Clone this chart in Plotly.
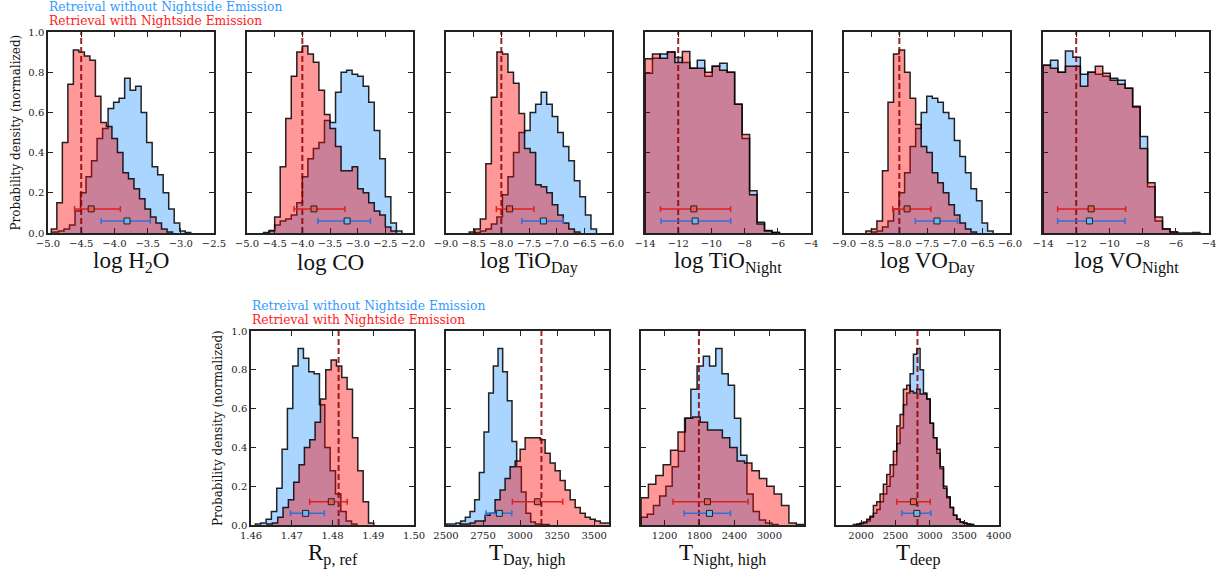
import plotly.graph_objects as go

# ------------------------------------------------------------------ data
# Histograms: (first bin edge, bin width) and normalized densities
h2o_blue_bins = (-4.925, 0.083)
h2o_blue = [0.005, 0.01, 0.02, 0.04, 0.11, 0.20, 0.28, 0.36, 0.47, 0.52, 0.62, 0.65, 0.67,
            0.77, 0.71, 0.73, 0.60, 0.45, 0.33, 0.29, 0.20, 0.12, 0.05, 0.01, 0.003]
h2o_red_bins = (-4.95, 0.083)
h2o_red = [0.02, 0.15, 0.45, 0.74, 0.91, 0.90, 0.88, 0.86, 0.68, 0.55, 0.53, 0.47, 0.40,
           0.30, 0.27, 0.22, 0.17, 0.12, 0.08, 0.05, 0.02, 0.005]

co_blue_bins = (-4.60, 0.1)
co_blue = [0.01, 0.04, 0.06, 0.07, 0.09, 0.15, 0.28, 0.37, 0.42, 0.45, 0.56, 0.55, 0.70,
           0.80, 0.81, 0.79, 0.78, 0.73, 0.65, 0.51, 0.37, 0.18, 0.05, 0.01]
co_red_bins = (-4.70, 0.1)
co_red = [0.003, 0.012, 0.08, 0.33, 0.57, 0.78, 0.90, 0.93, 0.89, 0.85, 0.71, 0.59, 0.52,
          0.43, 0.31, 0.31, 0.33, 0.22, 0.20, 0.15, 0.11, 0.09, 0.03, 0.01]

tiod_blue_bins = (-8.48, 0.1)
tiod_blue = [0.003, 0.01, 0.02, 0.045, 0.08, 0.19, 0.28, 0.40, 0.50, 0.51, 0.60, 0.64, 0.70,
             0.64, 0.58, 0.50, 0.43, 0.36, 0.26, 0.18, 0.09, 0.02]
tiod_red_bins = (-8.58, 0.1)
tiod_red = [0.005, 0.02, 0.07, 0.345, 0.675, 0.90, 0.89, 0.80, 0.745, 0.595, 0.42, 0.40,
            0.24, 0.23, 0.20, 0.14, 0.09, 0.05, 0.02, 0.005]

tion_blue_bins = (-14.0, 0.45)
tion_blue = [0.795, 0.87, 0.89, 0.90, 0.873, 0.848, 0.82, 0.86, 0.78, 0.83, 0.845, 0.80,
             0.64, 0.47, 0.21, 0.053, 0.012, 0.002]
tion_red_bins = (-14.0, 0.45)
tion_red = [0.867, 0.89, 0.87, 0.90, 0.848, 0.903, 0.82, 0.82, 0.80, 0.83, 0.81, 0.80,
            0.64, 0.49, 0.19, 0.045, 0.01, 0.002]

vod_blue_bins = (-8.505, 0.1)
vod_blue = [0.005, 0.01, 0.03, 0.06, 0.12, 0.20, 0.30, 0.43, 0.52, 0.60, 0.68, 0.67, 0.65,
            0.60, 0.57, 0.46, 0.38, 0.30, 0.22, 0.16, 0.05, 0.01]
vod_red_bins = (-8.605, 0.1)
vod_red = [0.01, 0.02, 0.06, 0.31, 0.65, 0.89, 0.91, 0.80, 0.67, 0.54, 0.43, 0.40, 0.30,
           0.25, 0.20, 0.14, 0.09, 0.05, 0.02, 0.005]

von_blue_bins = (-14.0, 0.45)
von_blue = [0.835, 0.86, 0.80, 0.905, 0.875, 0.79, 0.80, 0.79, 0.78, 0.77, 0.76, 0.72,
            0.625, 0.48, 0.23, 0.06, 0.02, 0.005, 0.0, 0.0, 0.003]
von_red_bins = (-14.0, 0.45)
von_red = [0.835, 0.82, 0.80, 0.83, 0.83, 0.73, 0.80, 0.83, 0.795, 0.76, 0.74, 0.72, 0.63,
           0.42, 0.25, 0.08, 0.02, 0.005]

rp_blue_bins = (1.46107, 0.001311)
rp_blue = [0.005, 0.01, 0.03, 0.07, 0.19, 0.39, 0.60, 0.82, 0.91, 0.86, 0.79, 0.78, 0.62,
           0.40, 0.28, 0.16, 0.07, 0.02, 0.005]
rp_red_bins = (1.46393, 0.001311)
rp_red = [0.005, 0.01, 0.04, 0.09, 0.13, 0.22, 0.31, 0.40, 0.44, 0.53, 0.65, 0.80, 0.85,
          0.82, 0.76, 0.70, 0.45, 0.28, 0.12, 0.01]

tday_blue_bins = (2504.5, 31.5)
tday_blue = [0.005, 0.005, 0.01, 0.02, 0.04, 0.07, 0.13, 0.27, 0.48, 0.68, 0.82, 0.91, 0.79,
             0.64, 0.43, 0.30, 0.17, 0.06, 0.015, 0.005, 0.003, 0.002]
tday_red_bins = (2594.6, 33.8)
tday_red = [0.005, 0.005, 0.01, 0.02, 0.02, 0.05, 0.06, 0.13, 0.18, 0.24, 0.30, 0.33, 0.39,
            0.45, 0.45, 0.45, 0.44, 0.37, 0.32, 0.28, 0.23, 0.18, 0.13, 0.09, 0.06, 0.04,
            0.03, 0.02, 0.01, 0.01]

tnight_blue_bins = (796.0, 107.0)
tnight_blue = [0.04, 0.055, 0.10, 0.15, 0.20, 0.30, 0.38, 0.55, 0.70, 0.82, 0.87, 0.82, 0.91,
               0.78, 0.72, 0.55, 0.36, 0.16, 0.07, 0.026, 0.01, 0.003]
tnight_red_bins = (796.0, 127.0)
tnight_red = [0.14, 0.21, 0.255, 0.31, 0.385, 0.48, 0.55, 0.557, 0.53, 0.49, 0.49, 0.45,
              0.40, 0.33, 0.32, 0.28, 0.24, 0.20, 0.16, 0.10, 0.01, 0.003]

tdeep_blue_bins = (1937.0, 48.5)
tdeep_blue = [0.003, 0.006, 0.01, 0.02, 0.04, 0.06, 0.08, 0.12, 0.16, 0.20, 0.25, 0.31, 0.42,
              0.50, 0.62, 0.68, 0.78, 0.88, 0.91, 0.80, 0.68, 0.65, 0.525, 0.45, 0.37, 0.29,
              0.20, 0.14, 0.09, 0.05, 0.03, 0.015, 0.01, 0.005, 0.003]
tdeep_red_bins = (1888.4, 48.5)
tdeep_red = [0.003, 0.005, 0.01, 0.015, 0.03, 0.045, 0.10, 0.12, 0.16, 0.21, 0.26, 0.31, 0.38,
             0.51, 0.57, 0.70, 0.72, 0.69, 0.68, 0.70, 0.675, 0.675, 0.65, 0.525, 0.45, 0.39,
             0.30, 0.19, 0.145, 0.09, 0.05, 0.03, 0.015, 0.01, 0.005, 0.003]

# Median and 1-sigma bounds, true values
red_median = [-4.35, -3.79, -7.85, -11.06, -7.86, -11.1, 1.4797, 3117, 1937, 2762]
red_err_minus = [0.25, 0.36, 0.24, 2.01, 0.26, 2.02, 0.0053, 169, 592, 242]
red_err_plus = [0.44, 0.56, 0.44, 2.22, 0.43, 2.08, 0.0039, 171, 697, 243]
blue_median = [-3.81, -3.19, -7.24, -10.98, -7.32, -11.2, 1.4734, 2860, 1972, 2811]
blue_err_minus = [0.39, 0.53, 0.39, 2.05, 0.39, 1.92, 0.0037, 90, 435, 219]
blue_err_plus = [0.35, 0.42, 0.36, 2.14, 0.37, 2.14, 0.0046, 84, 360, 204]
marker_level = {"red": 0.12, "blue": 0.06}
true_values = [-4.5, -4.0, -8.0, -12.0, -8.0, -12.0, 1.4815, 3144, 1790, 2820]

axis_labels = ["log H<sub>2</sub>O", "log CO", "log TiO<sub>Day</sub>", "log TiO<sub>Night</sub>",
               "log VO<sub>Day</sub>", "log VO<sub>Night</sub>", "R<sub>p, ref</sub>",
               "T<sub>Day, high</sub>", "T<sub>Night, high</sub>", "T<sub>deep</sub>"]
legend_labels = ["Retreival without Nightside Emission", "Retrieval with Nightside Emission"]
ylabel = "Probability density (normalized)"

blue_hists = [(h2o_blue_bins, h2o_blue), (co_blue_bins, co_blue), (tiod_blue_bins, tiod_blue),
              (tion_blue_bins, tion_blue), (vod_blue_bins, vod_blue), (von_blue_bins, von_blue),
              (rp_blue_bins, rp_blue), (tday_blue_bins, tday_blue),
              (tnight_blue_bins, tnight_blue), (tdeep_blue_bins, tdeep_blue)]
red_hists = [(h2o_red_bins, h2o_red), (co_red_bins, co_red), (tiod_red_bins, tiod_red),
             (tion_red_bins, tion_red), (vod_red_bins, vod_red), (von_red_bins, von_red),
             (rp_red_bins, rp_red), (tday_red_bins, tday_red),
             (tnight_red_bins, tnight_red), (tdeep_red_bins, tdeep_red)]

# ------------------------------------------------------------------ axes config
x_ranges = [[-5, -2.5], [-5, -2], [-9, -6], [-14, -4], [-9, -6], [-14, -4],
            [1.46, 1.50], [2500, 3600], [796, 3595], [1636, 4005]]
x_dticks = [0.5, 0.5, 0.5, 2, 0.5, 2, 0.01, 250, 600, 500]
x_tick0 = [0, 0, 0, 0, 0, 0, 0, 2500, 0, 0]
x_fmt = [".1f", ".1f", ".1f", "d", ".1f", "d", ".2f", "d", "d", "d"]

W, H = 1225, 576
top_left = [48, 247, 446, 645, 844, 1043]
top_w, top_y0, top_y1 = 166, 32, 233
bot_left = [251, 446, 641, 836]
bot_w, bot_y0, bot_y1 = 163, 331, 525

boxes = [(l, l + top_w, top_y0, top_y1) for l in top_left] + \
        [(l, l + bot_w, bot_y0, bot_y1) for l in bot_left]

BLUE_FILL = "rgba(30,144,255,0.38)"
RED_FILL = "rgba(255,0,0,0.40)"
EDGE = "rgba(0,0,0,0.85)"
SERIF = "DejaVu Serif, Liberation Serif, serif"
TITLE_FONT = "Liberation Serif, serif"


def step_xy(bins, heights):
    start, width = bins
    edges = [start + i * width for i in range(len(heights) + 1)]
    xs = [edges[0]] + edges[:-1] + [edges[-1]]
    ys = [0] + list(heights) + [0]
    return xs, ys


fig = go.Figure()
layout = {}
annotations = []

for i in range(10):
    n = "" if i == 0 else str(i + 1)
    xa, ya = "x" + n, "y" + n
    x0, x1, y0, y1 = boxes[i]
    for (bins, hts), fill in ((blue_hists[i], BLUE_FILL), (red_hists[i], RED_FILL)):
        xs, ys = step_xy(bins, hts)
        fig.add_trace(go.Scatter(x=xs, y=ys, xaxis=xa, yaxis=ya, mode="lines",
                                 line=dict(shape="hv", color=EDGE, width=1.5),
                                 fill="tozeroy", fillcolor=fill, showlegend=False,
                                 hoverinfo="skip"))
    # true value
    fig.add_trace(go.Scatter(x=[true_values[i], true_values[i]], y=[0, 1], xaxis=xa, yaxis=ya,
                             mode="lines", line=dict(color="rgba(139,0,0,0.85)", width=2,
                                                     dash="6px,3px"),
                             showlegend=False, hoverinfo="skip"))
    # error bars
    for med, em, ep, lvl, ecol, mcol in (
            (red_median, red_err_minus, red_err_plus, marker_level["red"], "#dd2020", "#f05a4a"),
            (blue_median, blue_err_minus, blue_err_plus, marker_level["blue"], "#3070d8", "#6fb6f0")):
        fig.add_trace(go.Scatter(x=[med[i]], y=[lvl], xaxis=xa, yaxis=ya, mode="markers",
                                 marker=dict(symbol="square", size=6, color=mcol,
                                             line=dict(color="#222222", width=1)),
                                 error_x=dict(type="data", array=[ep[i]], arrayminus=[em[i]],
                                              color=ecol, thickness=1.5, width=3),
                                 showlegend=False, hoverinfo="skip"))

    first = i in (0, 6)
    layout["xaxis" + n] = dict(domain=[x0 / W, x1 / W], anchor=ya, range=x_ranges[i],
                               dtick=x_dticks[i], tick0=x_tick0[i], tickformat=x_fmt[i],
                               ticks="inside", ticklen=5, tickwidth=1, tickcolor="#222",
                               showline=True, linecolor="#222", linewidth=1.5, mirror="ticks",
                               showgrid=False, zeroline=False, automargin=False,
                               tickfont=dict(family=SERIF, size=10, color="#222"))
    layout["yaxis" + n] = dict(domain=[1 - y1 / H, 1 - y0 / H], anchor=xa, range=[0, 1.0],
                               dtick=0.2, tickformat=".1f", showticklabels=first,
                               ticks="inside", ticklen=5, tickwidth=1, tickcolor="#222",
                               showline=True, linecolor="#222", linewidth=1.5, mirror="ticks",
                               showgrid=False, zeroline=False, automargin=False,
                               tickfont=dict(family=SERIF, size=10, color="#222"))
    # axis title
    annotations.append(dict(text=axis_labels[i], x=(x0 + x1) / 2 / W,
                            y=1 - (y1 + 29) / H, xref="paper", yref="paper",
                            xanchor="center", yanchor="middle", showarrow=False,
                            font=dict(family=TITLE_FONT, size=23, color="#111")))

# y-axis titles and legend texts
for (x0, x1, y0, y1) in (boxes[0], boxes[6]):
    annotations.append(dict(text=ylabel, textangle=-90, x=(x0 - 33) / W,
                            y=1 - (y0 + y1) / 2 / H, xref="paper", yref="paper",
                            xanchor="center", yanchor="middle", showarrow=False,
                            font=dict(family=SERIF, size=12, color="#111")))
    for k, (txt, col) in enumerate(zip(legend_labels, ["#3399ff", "#ff1a1a"])):
        annotations.append(dict(text=txt, x=(x0 - 1) / W, y=1 - (y0 - 25 + 14 * k) / H,
                                xref="paper", yref="paper", xanchor="left", yanchor="middle",
                                showarrow=False, font=dict(family=SERIF, size=12.3, color=col)))

fig.update_layout(width=W, height=H, margin=dict(l=0, r=0, t=0, b=0, pad=0),
                  paper_bgcolor="white", plot_bgcolor="white",
                  annotations=annotations, **layout)

fig.write_html("out.html")
